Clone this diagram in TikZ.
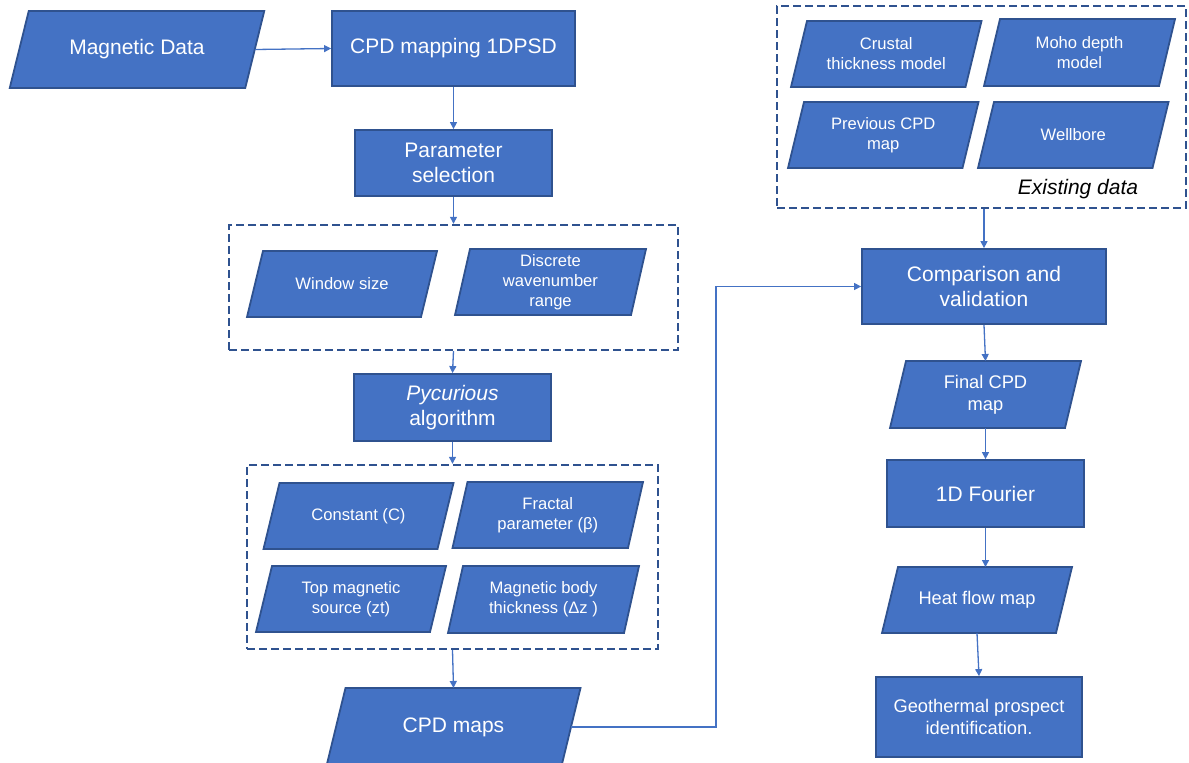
\documentclass[tikz,border=0pt]{standalone}
\usepackage{fontspec}
\setmainfont{Liberation Sans}
\usetikzlibrary{arrows.meta}

\definecolor{boxfill}{HTML}{4472C4}
\definecolor{boxedge}{HTML}{2F528F}
\definecolor{linkcol}{HTML}{4472C4}

\newcommand\bigtxt{\fontsize{21}{25}\selectfont}
\newcommand\midtxt{\fontsize{18.3}{22}\selectfont}
\newcommand\smalltxt{\fontsize{16.6}{20}\selectfont}

\tikzset{
  shapeedge/.style={fill=boxfill, draw=boxedge, line width=1.8pt, line join=miter},
  lbl/.style={text=white, align=center, inner sep=0pt, outer sep=0pt},
  rbox/.style={rectangle, fill=boxfill, draw=boxedge, line width=1.8pt,
               text=white, align=center, inner sep=0pt},
  group/.style={rectangle, draw=boxedge, line width=2.4pt,
                dash pattern=on 8pt off 4pt, inner sep=0pt},
  arr/.style={draw=linkcol, line width=1.3pt, -{Triangle[length=7pt,width=7pt]}},
}

% data (parallelogram) box: name, centre x, centre y, width, height, slant, font, text
\newcommand\pgram[8]{%
  \draw[shapeedge] ({#2-#4/2+#6/2},{#3-#5/2}) -- ++(#4,0) -- ++(-#6,#5) -- ++(-#4,0) -- cycle;
  \node[lbl, font=#7, minimum width=#4, minimum height=#5] (#1) at (#2,#3) {#8};}

\begin{document}
\begin{tikzpicture}[x=1pt, y=-1pt]
\useasboundingbox (0,0) rectangle (1189,763);

% ---- left column ----
\pgram{md}{137}{49.5}{235.5}{77}{19}{\bigtxt}{Magnetic Data}
\node[rbox, font=\bigtxt, minimum width=243, minimum height=75] (cpd) at (453.5,48.5) {CPD mapping 1DPSD};
\node[rbox, font=\bigtxt, minimum width=197, minimum height=66] (par) at (453.5,163) {Parameter\\selection};

\node[group, minimum width=449, minimum height=125] (grp1) at (453.5,287.5) {};
\pgram{ws}{342}{284}{174}{66}{16}{\smalltxt}{Window size}
\pgram{dw}{550.5}{282}{176}{66}{15}{\smalltxt}{Discrete\\wavenumber\\range}

\node[rbox, font=\bigtxt, minimum width=197, minimum height=67] (pyc) at (452.5,407.5) {\textit{Pycurious}\\algorithm};

\node[group, minimum width=411, minimum height=184] (grp2) at (452.5,557) {};
\pgram{con}{358.5}{516}{174}{66}{16}{\smalltxt}{Constant (C)}
\pgram{fra}{547.75}{515}{175.5}{66}{15}{\smalltxt}{Fractal\\parameter (β)}
\pgram{top}{351}{599}{174}{66}{16}{\smalltxt}{Top magnetic\\source (zt)}
\pgram{mbt}{543.5}{599.5}{176}{67}{15}{\smalltxt}{Magnetic body\\thickness (Δz )}

\pgram{cpdm}{453.5}{727}{235}{78}{19}{\bigtxt}{CPD maps}

% ---- right column ----
\node[group, minimum width=409, minimum height=202] (exist) at (981.5,107) {};
\pgram{cru}{886.25}{54}{174.5}{66}{16}{\smalltxt}{Crustal\\thickness model}
\pgram{moh}{1079.5}{52.5}{175}{67}{16}{\smalltxt}{Moho depth\\model}
\pgram{pre}{883.25}{135}{174.5}{66}{16}{\smalltxt}{Previous CPD\\map}
\pgram{wel}{1073.25}{135}{174.5}{66}{16}{\smalltxt}{Wellbore}
\node[font=\bigtxt\itshape, text=black, inner sep=0pt] (exlbl) at (1078,189) {Existing data};

\node[rbox, font=\bigtxt, minimum width=244, minimum height=75] (cmp) at (984,286.5) {Comparison and\\validation};
\pgram{fin}{985.5}{394.5}{175}{67}{16}{\midtxt}{Final CPD\\map}
\node[rbox, font=\bigtxt, minimum width=197, minimum height=67] (fou) at (985.5,493.5) {1D Fourier};
\pgram{hea}{977}{600}{174}{66}{16}{\midtxt}{Heat flow map}
\node[rbox, font=\midtxt, minimum width=206, minimum height=80] (geo) at (979,717) {Geothermal prospect\\identification.};

% ---- connectors ----
\coordinate (bend) at (716,0);
\draw[arr] (md.east) -- (cpd.west);
\draw[arr] (cpd.south) -- (par.north);
\draw[arr] (par.south) -- (grp1.north);
\draw[arr] (grp1.south) -- (pyc.north);
\draw[arr] (pyc.south) -- (grp2.north);
\draw[arr] (grp2.south) -- (cpdm.north);
\draw[arr] (cpdm.east) -| (bend |- cmp.west) -- (cmp.west);
\draw[arr] (exist.south -| cmp.north) -- (cmp.north);
\draw[arr] (cmp.south) -- (fin.north);
\draw[arr] (fin.south) -- (fou.north);
\draw[arr] (fou.south) -- (fou.south |- hea.north);
\draw[arr] (hea.south) -- (geo.north);
\end{tikzpicture}
\end{document}
